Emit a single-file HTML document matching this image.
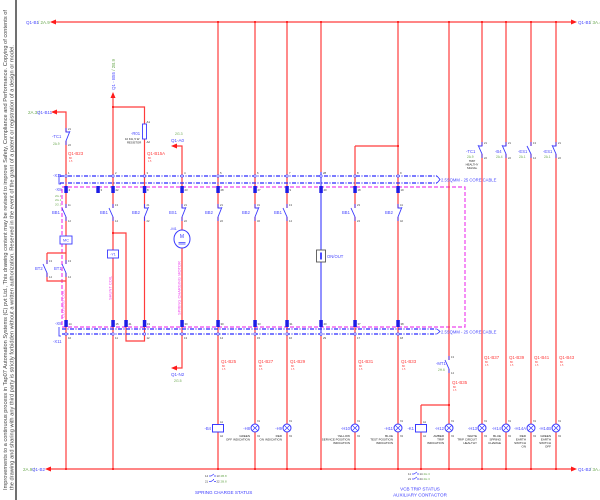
<!DOCTYPE html>
<html><head><meta charset="utf-8"><style>
html,body{margin:0;padding:0;background:#fff;}
svg{display:block;font-family:"Liberation Sans",sans-serif;}
</style></head><body>
<svg width="600" height="500" viewBox="0 0 600 500" xmlns="http://www.w3.org/2000/svg">
<rect width="600" height="500" fill="#fff"/>

<!-- left disclaimer strip -->
<g font-size="5" fill="#444">
<text transform="translate(7,490) rotate(-90)" textLength="480" lengthAdjust="spacingAndGlyphs">Improvements to a continuous process in Tap07 Automation Systems (C) pvt Ltd., This drawing content may be revised to improve Safety, Compliance and Performance. Copying of contents of</text>
<text transform="translate(13.5,490) rotate(-90)" textLength="445" lengthAdjust="spacingAndGlyphs">the drawing and sharing with any third party is strictly forbidden without a written authorization. Reserved in the event of the grant of a patent or registration of a design or model.</text>
</g>
<line x1="16" y1="0" x2="16" y2="500" stroke="#111" stroke-width="1.2"/>

<!-- magenta dashed cabinet -->
<path d="M62 187 H465 V327 H62 Z" fill="none" stroke="#ee44ee" stroke-width="1.2" stroke-dasharray="4 2"/>

<!-- red wiring -->
<g stroke="#ff3c3c" stroke-width="1.2" fill="none">
<path d="M55 22 H573"/>
<path d="M49 469 H573"/>
<path d="M218 22 V469 M255 22 V469 M287 22 V469 M449 22 V469 M482 22 V469 M506 22 V469 M531 22 V469 M556 22 V469"/>
<path d="M321 22 V172 M321 336 V469"/>
<path d="M398 22 V469 M355 146 H398 M355 146 V469"/>
<path d="M55 112 H66 V469"/>
<path d="M113 95 V469 M113 107 H144.5 V341 H126 V233 H113"/>
<path d="M174 146 H182 V368 H174"/>
<path d="M47 253 H66 M47 253 V281 H66"/>
<path d="M421 405 H449 M421 405 V469"/>
</g>
<path d="M321 172 V336" stroke="#4a4aff" stroke-width="1.2"/>

<!-- bus junction marks -->
<g fill="#ff2a2a">
<rect x="217" y="21" width="2" height="2"/><rect x="254" y="21" width="2" height="2"/><rect x="286" y="21" width="2" height="2"/><rect x="320" y="21" width="2" height="2"/><rect x="397" y="21" width="2" height="2"/><rect x="448" y="21" width="2" height="2"/><rect x="481" y="21" width="2" height="2"/><rect x="505" y="21" width="2" height="2"/><rect x="530" y="21" width="2" height="2"/><rect x="555" y="21" width="2" height="2"/>
<rect x="65" y="468" width="2" height="2"/><rect x="112" y="468" width="2" height="2"/><rect x="217" y="468" width="2" height="2"/><rect x="254" y="468" width="2" height="2"/><rect x="286" y="468" width="2" height="2"/><rect x="320" y="468" width="2" height="2"/><rect x="354" y="468" width="2" height="2"/><rect x="397" y="468" width="2" height="2"/><rect x="420" y="468" width="2" height="2"/><rect x="448" y="468" width="2" height="2"/><rect x="481" y="468" width="2" height="2"/><rect x="505" y="468" width="2" height="2"/><rect x="530" y="468" width="2" height="2"/><rect x="555" y="468" width="2" height="2"/>
<rect x="112" y="106" width="2" height="2"/><rect x="397" y="145" width="2" height="2"/><rect x="448" y="404" width="2" height="2"/><rect x="112" y="232" width="2" height="2"/>
</g>

<!-- arrowheads -->
<g fill="#ff1a1a">
<path d="M50 22 L56 19.5 L56 24.5 Z"/>
<path d="M577 22 L571 19.5 L571 24.5 Z"/>
<path d="M45 469 L51 466.5 L51 471.5 Z"/>
<path d="M577 469 L571 466.5 L571 471.5 Z"/>
<path d="M51 112 L57 109.5 L57 114.5 Z"/>
<path d="M113 92 L110.5 98 L115.5 98 Z"/>
<path d="M171 146 L177 143.5 L177 148.5 Z"/>
<path d="M171 368 L177 365.5 L177 370.5 Z"/>
</g>

<!-- bus labels -->
<g font-size="4.5">
<text x="26" y="24" fill="#4848ff">Q1-B1</text><text x="38" y="24" fill="#6aa84f">/ 2A.9</text>
<text x="578" y="24" fill="#4848ff">Q1-B1</text><text x="590" y="24" fill="#6aa84f">/ 3A.4</text>
<text x="23" y="471" fill="#6aa84f">2A.9 /</text><text x="32" y="471" fill="#4848ff">Q1-B2</text>
<text x="578" y="471" fill="#4848ff">Q1-B2</text><text x="590" y="471" fill="#6aa84f">/ 3A.4</text>
<text x="28" y="114" fill="#6aa84f">2A.3 /</text><text x="37" y="114" fill="#4848ff">Q1-B11</text>
<text transform="translate(115,90) rotate(-90)" fill="#4848ff">Q1 - B55 <tspan fill="#6aa84f">/ 2B.9</tspan></text>
<text x="175" y="135" fill="#6aa84f" font-size="3.5">2G.3</text><text x="171" y="142" fill="#4848ff">Q1-A0</text>
<text x="171" y="376" fill="#4848ff">Q1-N2</text><text x="174" y="382" fill="#6aa84f" font-size="3.5">2G.5</text>
</g>

<!-- cables -->
<g stroke="#2a2aff" stroke-width="1.2" fill="none" stroke-dasharray="4 1.5 1 1.5">
<path d="M60 176 H437"/><path d="M60 183 H437"/>
<path d="M62 329 H437"/><path d="M62 334 H437"/>
</g>
<g stroke="#2a2aff" stroke-width="0.8" fill="none">
<path d="M437 176 L440 179.5 L437 183"/><path d="M437 329 L440 331.5 L437 334"/>
<path d="M59 174 V184 H61"/><path d="M59 327 V336 H61"/>
</g>
<g font-size="4.2" fill="#4848ff">
<text x="441" y="181.5">2.5SQMM - 25 CORE CABLE</text>
<text x="441" y="333.5">2.5SQMM - 25 CORE CABLE</text>
<text x="53" y="177">-X11</text>
<text x="55" y="191">-X8</text>
<text x="55" y="325">-X8</text>
<text x="53" y="343">-X11</text>
</g>
<g font-size="3" fill="#6aa84f"><text x="55" y="197">2G.1</text><text x="55" y="201">2G.1</text><text x="55" y="205.5">2G.1</text></g>

<!-- terminal blocks -->
<g fill="#1c1ce6">
<rect x="64.3" y="186" width="3.5" height="7"/><rect x="96.3" y="186" width="3.5" height="7"/><rect x="111.3" y="186" width="3.5" height="7"/><rect x="142.8" y="186" width="3.5" height="7"/><rect x="180.3" y="186" width="3.5" height="7"/><rect x="216.3" y="186" width="3.5" height="7"/><rect x="253.3" y="186" width="3.5" height="7"/><rect x="285.3" y="186" width="3.5" height="7"/><rect x="319.3" y="186" width="3.5" height="7"/><rect x="353.3" y="186" width="3.5" height="7"/><rect x="396.3" y="186" width="3.5" height="7"/>
<rect x="64.3" y="320" width="3.5" height="7"/><rect x="111.3" y="320" width="3.5" height="7"/><rect x="124.3" y="320" width="3.5" height="7"/><rect x="142.8" y="320" width="3.5" height="7"/><rect x="180.3" y="320" width="3.5" height="7"/><rect x="216.3" y="320" width="3.5" height="7"/><rect x="253.3" y="320" width="3.5" height="7"/><rect x="285.3" y="320" width="3.5" height="7"/><rect x="319.3" y="320" width="3.5" height="7"/><rect x="353.3" y="320" width="3.5" height="7"/><rect x="396.3" y="320" width="3.5" height="7"/>
</g>
<!-- X11 terminal marks -->
<g fill="#fff" stroke="#4848ff" stroke-width="0.7">
<circle cx="66" cy="176" r="1.2"/><circle cx="113" cy="176" r="1.2"/><circle cx="144.5" cy="176" r="1.2"/><circle cx="182" cy="176" r="1.2"/><circle cx="218" cy="176" r="1.2"/><circle cx="255" cy="176" r="1.2"/><circle cx="287" cy="176" r="1.2"/><circle cx="321" cy="176" r="1.2"/><circle cx="355" cy="176" r="1.2"/><circle cx="398" cy="176" r="1.2"/>
<circle cx="66" cy="334" r="1.2"/><circle cx="113" cy="334" r="1.2"/><circle cx="144.5" cy="334" r="1.2"/><circle cx="182" cy="334" r="1.2"/><circle cx="218" cy="334" r="1.2"/><circle cx="255" cy="334" r="1.2"/><circle cx="287" cy="334" r="1.2"/><circle cx="321" cy="334" r="1.2"/><circle cx="355" cy="334" r="1.2"/><circle cx="398" cy="334" r="1.2"/>
</g>
<g font-size="2.8" fill="#333">
<text x="68" y="174">1</text><text x="115" y="174">2</text><text x="146.5" y="174">3</text><text x="184" y="174">4</text><text x="220" y="174">5</text><text x="257" y="174">6</text><text x="289" y="174">7</text><text x="323" y="174">28</text><text x="357" y="174">8</text><text x="400" y="174">9</text>
<text x="68.5" y="191">4</text><text x="100.5" y="191">3</text><text x="115.5" y="191">22</text><text x="147" y="191">8</text><text x="184.5" y="191">23</text><text x="220.5" y="191">28</text><text x="257.5" y="191">27</text><text x="289.5" y="191">9</text><text x="323.5" y="191">40</text><text x="357.5" y="191">18</text><text x="400.5" y="191">19</text>
<text x="68.5" y="325">14</text><text x="115.5" y="325">15</text><text x="128.5" y="325">41</text><text x="147" y="325">19</text><text x="184.5" y="325">30</text><text x="220.5" y="325">30</text><text x="257.5" y="325">33</text><text x="289.5" y="325">31</text><text x="323.5" y="325">40</text><text x="357.5" y="325">37</text><text x="400.5" y="325">38</text>
<text x="68" y="339">10</text><text x="115" y="339">11</text><text x="146.5" y="339">12</text><text x="184" y="339">13</text><text x="220" y="339">14</text><text x="257" y="339">15</text><text x="289" y="339">16</text><text x="323" y="339">29</text><text x="357" y="339">17</text><text x="400" y="339">18</text>
</g>

<!-- contacts: erase line segments -->
<g fill="#fff">
<rect x="64.5" y="132" width="3" height="9"/>
<rect x="64.5" y="208" width="3" height="9"/><rect x="111.5" y="208" width="3" height="9"/><rect x="143" y="208" width="3" height="9"/><rect x="180.5" y="208" width="3" height="9"/><rect x="216.5" y="208" width="3" height="9"/><rect x="253.5" y="208" width="3" height="9"/><rect x="285.5" y="208" width="3" height="9"/><rect x="353.5" y="208" width="3" height="9"/><rect x="396.5" y="208" width="3" height="9"/>
<rect x="64.5" y="264" width="3" height="9"/><rect x="45.5" y="264" width="3" height="9"/>
<rect x="447.5" y="360" width="3" height="9"/>
<rect x="480.5" y="146" width="3" height="8"/><rect x="504.5" y="146" width="3" height="8"/><rect x="529.5" y="146" width="3" height="8"/><rect x="554.5" y="146" width="3" height="8"/>
</g>
<g stroke="#3a3aff" stroke-width="0.9" fill="none">
<!-- NC contacts -->
<path d="M66 128 V132 H69 M70 131 L66 141 V145"/>
<path d="M144.5 204 V208 H147.5 M148.5 207 L144.5 217 V221"/>
<path d="M182 204 V208 H185 M186 207 L182 217 V221"/>
<path d="M218 204 V208 H221 M222 207 L218 217 V221"/>
<path d="M255 204 V208 H258 M259 207 L255 217 V221"/>
<path d="M398 204 V208 H401 M402 207 L398 217 V221"/>
<path d="M482 142 V146 H479 M478 145 L482 154 V158"/>
<path d="M506 142 V146 H503 M502 145 L506 154 V158"/>
<path d="M556 142 V146 H553 M552 145 L556 154 V158"/>
<!-- NO contacts -->
<path d="M66 204 V208 M62 208 L66 217 V221"/>
<path d="M113 204 V208 M109 208 L113 217 V221"/>
<path d="M287 204 V208 M283 208 L287 217 V221"/>
<path d="M355 204 V208 M351 208 L355 217 V221"/>
<path d="M66 260 V264 M62 264 L66 273 V277"/>
<path d="M47 260 V264 M43 264 L47 273 V277"/>
<path d="M449 356 V360 M445 360 L449 369 V373"/>
<path d="M531 142 V146 M527 146 L531 154 V158"/>
</g>
<g font-size="2.6" fill="#333">
<text x="68" y="130">21</text><text x="68" y="146">22</text>
<text x="68" y="206">11</text><text x="68" y="222">12</text><text x="115" y="206">13</text><text x="115" y="222">14</text><text x="146.5" y="206">21</text><text x="146.5" y="222">22</text><text x="184" y="206">21</text><text x="184" y="222">22</text>
<text x="220" y="206">21</text><text x="220" y="222">22</text><text x="257" y="206">31</text><text x="257" y="222">32</text><text x="289" y="206">13</text><text x="289" y="222">14</text><text x="357" y="206">23</text><text x="357" y="222">24</text><text x="400" y="206">41</text><text x="400" y="222">42</text>
<text x="68" y="262">13</text><text x="68" y="278">14</text><text x="49" y="262">13</text><text x="49" y="278">14</text>
<text x="451" y="358">13</text><text x="451" y="374">14</text>
<text x="484" y="144">21</text><text x="484" y="159">22</text><text x="508" y="144">21</text><text x="508" y="159">22</text><text x="533" y="144">13</text><text x="533" y="159">14</text><text x="558" y="144">21</text><text x="558" y="159">22</text>
</g>
<g font-size="4.2" fill="#4848ff">
<text x="52" y="138">-TC1</text>
<text x="52" y="214">BB1</text><text x="100" y="214">BB1</text><text x="132" y="214">BB2</text><text x="169" y="214">BS1</text><text x="205" y="214">BB2</text><text x="242" y="214">BB2</text><text x="274" y="214">BB1</text><text x="342" y="214">BB1</text><text x="385" y="214">BB2</text>
<text x="54" y="270">BT1</text><text x="35" y="270">BT2</text>
<text x="436" y="365">-MT1</text>
<text x="466" y="153">-TC1</text><text x="495" y="153">-B4</text><text x="518" y="153">-ES1</text><text x="543" y="153">-ES1</text>
</g>
<g font-size="3.2" fill="#6aa84f">
<text x="53" y="145">2A.9</text><text x="438" y="371">2H.6</text>
<text x="467" y="158">2A.9</text><text x="496" y="158">2A.4</text><text x="519" y="158">2A.1</text><text x="544" y="158">2A.1</text>
</g>
<g font-size="2.8" fill="#222" text-anchor="middle">
<text x="472" y="162">TRIP</text><text x="472" y="165.5">HEALTHY</text><text x="472" y="169">SIGNAL</text>
</g>

<!-- resistor -->
<rect x="142.5" y="124" width="4" height="15" fill="#fff" stroke="#3a3aff" stroke-width="0.9"/>
<g font-size="4.2" fill="#4848ff"><text x="131" y="135">-R01</text></g>
<g font-size="2.8" fill="#222"><text x="125" y="140">10 KΩ, 5 W</text><text x="127" y="143.5">RESISTOR</text><text x="146.5" y="123">A1</text><text x="146.5" y="143">A2</text></g>

<!-- wire labels -->
<g font-size="4.4" fill="#ff3c3c">
<text x="68" y="155">Q1-B23</text><text x="147" y="155">Q1-B15A</text>
<text x="221" y="363">Q1-B25</text><text x="258" y="363">Q1-B27</text><text x="290" y="363">Q1-B29</text><text x="358" y="363">Q1-B31</text><text x="401" y="363">Q1-B33</text>
<text x="452" y="384">Q1-B35</text>
<text x="484" y="359">Q1-B37</text><text x="509" y="359">Q1-B39</text><text x="534" y="359">Q1-B41</text><text x="559" y="359">Q1-B43</text>
</g>
<g font-size="2.4" fill="#ff3c3c">
<text x="69" y="159">BK</text><text x="69" y="162">1.5</text><text x="148" y="159">BK</text><text x="148" y="162">1.5</text>
<text x="222" y="367">BK</text><text x="222" y="370">1.5</text><text x="259" y="367">BK</text><text x="259" y="370">1.5</text><text x="291" y="367">BK</text><text x="291" y="370">1.5</text><text x="359" y="367">BK</text><text x="359" y="370">1.5</text><text x="402" y="367">BK</text><text x="402" y="370">1.5</text>
<text x="453" y="388">BK</text><text x="453" y="391">1.5</text>
<text x="485" y="363">BK</text><text x="485" y="366">1.5</text><text x="510" y="363">BK</text><text x="510" y="366">1.5</text><text x="535" y="363">BK</text><text x="535" y="366">1.5</text><text x="560" y="363">BK</text><text x="560" y="366">1.5</text>
</g>

<!-- MC, Y1, motor, ON/OUT -->
<rect x="60" y="236" width="12" height="8" fill="#fff" stroke="#3a3aff" stroke-width="0.9"/>
<text x="66" y="241.6" font-size="3.8" fill="#3a3aff" text-anchor="middle">MC</text>
<rect x="107.5" y="250" width="11" height="8" fill="#fff" stroke="#3a3aff" stroke-width="0.9"/>
<text x="113" y="255.6" font-size="3.6" fill="#3a3aff" text-anchor="middle">-Y1</text>
<ellipse cx="182" cy="239" rx="8" ry="9" fill="#fff" stroke="#3a3aff" stroke-width="1"/>
<text x="182" y="238" font-size="5" fill="#3a3aff" text-anchor="middle">M</text>
<path d="M178.5 242.5 H185.5 M178.5 244 H185.5" stroke="#3a3aff" stroke-width="0.7"/>
<text x="170" y="230" font-size="4" fill="#4848ff">-M1</text>
<rect x="316.5" y="250" width="9" height="12" fill="#fff" stroke="#555" stroke-width="0.9"/>
<rect x="320" y="252.5" width="2" height="7" fill="#4a4aff"/>
<text x="327" y="258" font-size="4.2" fill="#4848ff">ON/OUT</text>

<!-- magenta rotated texts -->
<g font-size="4" fill="#ee44ee">
<text transform="translate(64.5,318) rotate(-90)">CLOSING COIL</text>
<text transform="translate(111.5,300) rotate(-90)">SHUNT COIL</text>
<text transform="translate(180.5,315) rotate(-90)">SPRING CHARGING MOTOR</text>
</g>

<!-- coils and lamps at bottom -->
<g fill="#fff" stroke="#3a3aff" stroke-width="1">
<rect x="212.5" y="424.5" width="11" height="7.5"/>
<rect x="415.5" y="424.5" width="11" height="7.5"/>
<circle cx="255" cy="428" r="4"/><circle cx="287" cy="428" r="4"/><circle cx="355" cy="428" r="4"/><circle cx="398" cy="428" r="4"/><circle cx="449" cy="428" r="4"/><circle cx="482" cy="428" r="4"/><circle cx="506" cy="428" r="4"/><circle cx="531" cy="428" r="4"/><circle cx="556" cy="428" r="4"/>
</g>
<g stroke="#3a3aff" stroke-width="0.7">
<path d="M252.2 425.2 L257.8 430.8 M257.8 425.2 L252.2 430.8"/>
<path d="M284.2 425.2 L289.8 430.8 M289.8 425.2 L284.2 430.8"/>
<path d="M352.2 425.2 L357.8 430.8 M357.8 425.2 L352.2 430.8"/>
<path d="M395.2 425.2 L400.8 430.8 M400.8 425.2 L395.2 430.8"/>
<path d="M446.2 425.2 L451.8 430.8 M451.8 425.2 L446.2 430.8"/>
<path d="M479.2 425.2 L484.8 430.8 M484.8 425.2 L479.2 430.8"/>
<path d="M503.2 425.2 L508.8 430.8 M508.8 425.2 L503.2 430.8"/>
<path d="M528.2 425.2 L533.8 430.8 M533.8 425.2 L528.2 430.8"/>
<path d="M553.2 425.2 L558.8 430.8 M558.8 425.2 L553.2 430.8"/>
</g>
<g font-size="4.2" fill="#4848ff" text-anchor="end">
<text x="211" y="430">-B4</text><text x="250" y="430">-H8</text><text x="282" y="430">-H9</text><text x="350" y="430">-H10</text><text x="393" y="430">-H11</text><text x="414" y="430">-K1</text><text x="444" y="430">-H12</text><text x="477" y="430">-H13</text><text x="501" y="430">-H14</text><text x="526" y="430">-H14A</text><text x="551" y="430">-H14B</text>
</g>
<g font-size="2.5" fill="#333">
<text x="220" y="423">A1</text><text x="220" y="437">A2</text><text x="423" y="423">A1</text><text x="423" y="437">A2</text>
<text x="257" y="422">X1</text><text x="257" y="437">X2</text><text x="289" y="422">X1</text><text x="289" y="437">X2</text><text x="357" y="422">X1</text><text x="357" y="437">X2</text><text x="400" y="422">X1</text><text x="400" y="437">X2</text><text x="451" y="422">X1</text><text x="451" y="437">X2</text><text x="484" y="422">X1</text><text x="484" y="437">X2</text><text x="508" y="422">X1</text><text x="508" y="437">X2</text><text x="533" y="422">X1</text><text x="533" y="437">X2</text><text x="558" y="422">X1</text><text x="558" y="437">X2</text>
</g>
<g font-size="3" fill="#222" text-anchor="end">
<text x="250" y="437">GREEN</text><text x="250" y="440.5">OFF INDICATION</text>
<text x="282" y="437">RED</text><text x="282" y="440.5">ON INDICATION</text>
<text x="350" y="437">YELLOW</text><text x="350" y="440.5">SERVICE POSITION</text><text x="350" y="444">INDICATION</text>
<text x="393" y="437">BLUE</text><text x="393" y="440.5">TEST POSITION</text><text x="393" y="444">INDICATION</text>
<text x="444" y="437">AMBER</text><text x="444" y="440.5">TRIP</text><text x="444" y="444">INDICATION</text>
<text x="477" y="437">WHITE</text><text x="477" y="440.5">TRIP CIRCUIT</text><text x="477" y="444">HEALTHY</text>
<text x="501" y="437">BLUE</text><text x="501" y="440.5">SPRING</text><text x="501" y="444">CHARGE</text>
<text x="526" y="437">RED</text><text x="526" y="440.5">EARTH</text><text x="526" y="444">SWITCH</text><text x="526" y="447.5">ON</text>
<text x="551" y="437">GREEN</text><text x="551" y="440.5">EARTH</text><text x="551" y="444">SWITCH</text><text x="551" y="447.5">OFF</text>
</g>

<!-- below-bus contact references -->
<g stroke="#3a3aff" stroke-width="0.7" fill="none">
<path d="M209 476 H211 L214 474 M214 476 H216"/>
<path d="M209 481.5 H211 L214 479.5 M213 479.5 H214 M214 481.5 H216"/>
<path d="M412 474 H414 L417 472 M417 474 H419"/>
<path d="M412 479 H414 L417 477 M417 479 H419"/>
</g>
<g font-size="2.8" fill="#333">
<text x="205" y="477">14</text><text x="216.5" y="477">13</text><text x="205" y="482.5">21</text><text x="216.5" y="482.5">22</text>
<text x="408" y="475">11</text><text x="419.5" y="475">14</text><text x="408" y="480">21</text><text x="419.5" y="480">24</text>
</g>
<g font-size="3" fill="#6aa84f">
<text x="220.5" y="477">2B.8</text><text x="220.5" y="482.5">2B.8</text>
<text x="423.5" y="475">2H.3</text><text x="423.5" y="480">2H.3</text>
</g>
<g font-size="4.6" fill="#3a3aff">
<text x="195" y="494">SPRING CHARGE STATUS</text>
<text x="420" y="490.5" text-anchor="middle">VCB TRIP STATUS</text>
<text x="420" y="496.5" text-anchor="middle">AUXILIARY CONTACTOR</text>
</g>
</svg>
</body></html>
